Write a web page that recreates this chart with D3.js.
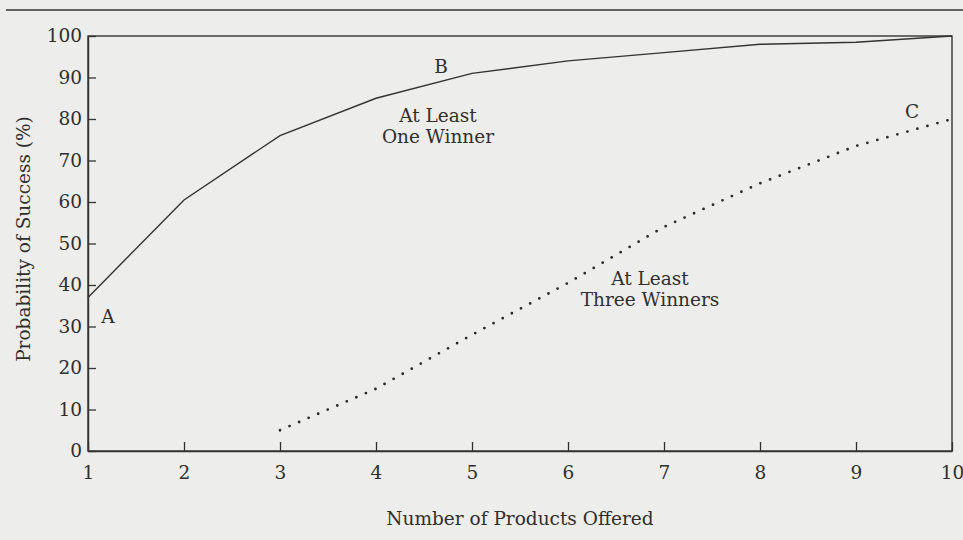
<!DOCTYPE html>
<html>
<head>
<meta charset="utf-8">
<script src="https://cdn.jsdelivr.net/npm/d3@7"></script>
<style>
  body { margin: 0; background: #ededeb; }
  text { font-family: "DejaVu Serif", serif; fill: #2f2f2f; }
</style>
</head>
<body>
<div id="chart"></div>
<script>
// data
var products = [1, 2, 3, 4, 5, 6, 7, 8, 9, 10];
var oneWinner = [37, 60.5, 76, 85, 91, 94, 96, 98, 98.5, 100];
var threeProducts = [3, 4, 5, 6, 7, 8, 9, 10];
var threeWinners = [5, 15, 28, 40.5, 54, 64.5, 73.5, 80];
var yTicks = [0, 10, 20, 30, 40, 50, 60, 70, 80, 90, 100];

// set the dimensions and margins of the graph
var margin = { top: 36, right: 11, bottom: 89, left: 88 },
  width = 963 - margin.left - margin.right,
  height = 540 - margin.top - margin.bottom;

var root = d3.select("#chart")
  .append("svg")
  .attr("width", 963)
  .attr("height", 540);

// page rule at the very top
root.append("line")
  .attr("x1", 6).attr("x2", 963)
  .attr("y1", 10).attr("y2", 10)
  .attr("stroke", "#333")
  .attr("stroke-width", 1.4);

var svg = root.append("g")
  .attr("transform", "translate(" + margin.left + "," + margin.top + ")");

var x = d3.scaleLinear().domain([1, 10]).range([0, width]);
var y = d3.scaleLinear().domain([0, 100]).range([height, 0]);

// frame
svg.append("rect")
  .attr("width", width)
  .attr("height", height)
  .attr("fill", "none")
  .attr("stroke", "#333")
  .attr("stroke-width", 1.4);

// X axis, ticks pointing inside
var xAxis = svg.append("g")
  .attr("transform", "translate(0," + height + ")")
  .call(d3.axisBottom(x).tickValues(products).tickFormat(d3.format("d"))
    .tickSizeInner(-9).tickSizeOuter(0).tickPadding(15));

// Y axis
var yAxis = svg.append("g")
  .call(d3.axisLeft(y).tickValues(yTicks)
    .tickSizeInner(-8).tickSizeOuter(0).tickPadding(6));

[xAxis, yAxis].forEach(function (a) {
  a.select(".domain").attr("stroke", "#333").attr("stroke-width", 1.4);
  a.selectAll(".tick line").attr("stroke", "#333").attr("stroke-width", 1.3);
  a.selectAll(".tick text")
    .attr("font-family", "DejaVu Serif")
    .attr("font-size", 18.5)
    .attr("fill", "#2f2f2f");
});

// axis titles
svg.append("text")
  .attr("x", width / 2 + 0)
  .attr("y", height + 74)
  .attr("text-anchor", "middle")
  .attr("font-size", 18.5)
  .text("Number of Products Offered");

svg.append("text")
  .attr("transform", "translate(" + (30 - margin.left) + "," + (239 - margin.top) + ") rotate(-90)")
  .attr("text-anchor", "middle")
  .attr("font-size", 18.5)
  .text("Probability of Success (%)");

// lines
var line = d3.line()
  .x(function (d) { return x(d[0]); })
  .y(function (d) { return y(d[1]); });

svg.append("path")
  .datum(d3.zip(products, oneWinner))
  .attr("d", line)
  .attr("fill", "none")
  .attr("stroke", "#333")
  .attr("stroke-width", 1.4);

svg.append("path")
  .datum(d3.zip(threeProducts, threeWinners))
  .attr("d", line)
  .attr("fill", "none")
  .attr("stroke", "#2a2a2a")
  .attr("stroke-width", 2.8)
  .attr("stroke-linecap", "round")
  .attr("stroke-dasharray", "0,10.4");

// labels
function label(px, py, lines) {
  var t = svg.append("text")
    .attr("text-anchor", "middle")
    .attr("font-size", 18.5);
  lines.forEach(function (s, i) {
    t.append("tspan")
      .attr("x", px - margin.left)
      .attr("y", py - margin.top + i * 21)
      .text(s);
  });
}

label(108, 323, ["A"]);
label(441, 73, ["B"]);
label(912, 118, ["C"]);
label(438, 122, ["At Least", "One Winner"]);
label(650, 285, ["At Least", "Three Winners"]);
</script>
</body>
</html>
